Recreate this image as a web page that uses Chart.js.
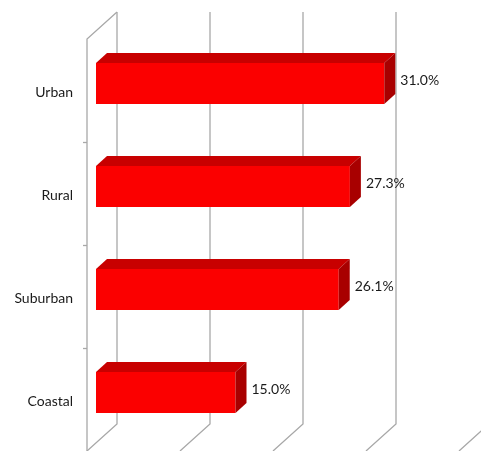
<!DOCTYPE html>
<html>
<head>
<meta charset="utf-8">
<script src="https://cdn.jsdelivr.net/npm/chart.js@4.4.1/dist/chart.umd.min.js"></script>
<style>
  html, body { margin: 0; padding: 0; background: #fff; }
</style>
</head>
<body>
<canvas id="areaChart" width="481" height="451"></canvas>
<script>
const categories = ['Urban', 'Rural', 'Suburban', 'Coastal'];
const shares = [31.0, 27.3, 26.1, 15.0];
const gridValues = [0, 10, 20, 30, 40];

// 3D look: offsets from the bar plane to the front and back walls
const BACK = { dx: 21, dy: -20 };
const FRONT = { dx: -9, dy: 7 };
const DEPTH = { dx: 11, dy: -10 };

const walls3d = {
  id: 'walls3d',
  beforeDatasetsDraw(chart) {
    const { ctx, chartArea, scales } = chart;
    const xs = scales.x, ys = scales.y;
    const top = chartArea.top, bottom = chartArea.bottom, left = chartArea.left;
    ctx.save();
    ctx.strokeStyle = '#a8a8a8';
    ctx.lineWidth = 1.3;
    gridValues.forEach(v => {
      const px = xs.getPixelForValue(v);
      ctx.beginPath();
      ctx.moveTo(px + BACK.dx, top + BACK.dy);
      ctx.lineTo(px + BACK.dx, bottom + BACK.dy);
      ctx.lineTo(px + FRONT.dx, bottom + FRONT.dy);
      ctx.stroke();
    });
    // left wall
    ctx.beginPath();
    ctx.moveTo(left + BACK.dx, top + BACK.dy);
    ctx.lineTo(left + FRONT.dx, top + FRONT.dy);
    ctx.lineTo(left + FRONT.dx, bottom + FRONT.dy);
    ctx.stroke();
    // category ticks between bands
    for (let i = 1; i < categories.length; i++) {
      const py = Math.round(ys.getPixelForValue(i - 0.5) + FRONT.dy) + 0.5;
      ctx.beginPath();
      ctx.moveTo(left + FRONT.dx - 4, py);
      ctx.lineTo(left + FRONT.dx, py);
      ctx.stroke();
    }
    ctx.restore();
  },
  afterDatasetsDraw(chart) {
    const { ctx } = chart;
    const meta = chart.getDatasetMeta(0);
    ctx.save();
    meta.data.forEach((bar, i) => {
      const p = bar.getProps(['x', 'y', 'base', 'height'], true);
      const t = p.y - p.height / 2, b = p.y + p.height / 2;
      // top face
      ctx.fillStyle = '#c80000';
      ctx.beginPath();
      ctx.moveTo(p.base, t);
      ctx.lineTo(p.x, t);
      ctx.lineTo(p.x + DEPTH.dx, t + DEPTH.dy);
      ctx.lineTo(p.base + DEPTH.dx, t + DEPTH.dy);
      ctx.closePath();
      ctx.fill();
      // side face
      ctx.fillStyle = '#a80000';
      ctx.beginPath();
      ctx.moveTo(p.x, t);
      ctx.lineTo(p.x + DEPTH.dx, t + DEPTH.dy);
      ctx.lineTo(p.x + DEPTH.dx, b + DEPTH.dy);
      ctx.lineTo(p.x, b);
      ctx.closePath();
      ctx.fill();
      // value label
      ctx.fillStyle = '#1a1a1a';
      ctx.font = '14px Lato';
      ctx.textAlign = 'left';
      ctx.textBaseline = 'middle';
      ctx.fillText(shares[i].toFixed(1) + '%', p.x + 16, p.y - 3);
    });
    ctx.restore();
  }
};

new Chart(document.getElementById('areaChart').getContext('2d'), {
  type: 'bar',
  data: {
    labels: categories,
    datasets: [{
      data: shares,
      backgroundColor: '#fb0000',
      borderWidth: 0,
      categoryPercentage: 1,
      barPercentage: 0.4
    }]
  },
  options: {
    indexAxis: 'y',
    responsive: false,
    animation: false,
    layout: { padding: { left: 0, right: 13, top: 32, bottom: 7 } },
    plugins: {
      legend: { display: false },
      tooltip: { enabled: false }
    },
    scales: {
      x: {
        display: false,
        min: 0,
        max: 40
      },
      y: {
        afterFit(scale) {
          scale.width = 96;
          scale.paddingTop = 0;
          scale.paddingBottom = 0;
        },
        grid: { display: false, drawTicks: false },
        border: { display: false },
        ticks: {
          color: '#1a1a1a',
          padding: 23,
          labelOffset: 9,
          font: { family: 'Lato', size: 14 }
        }
      }
    }
  },
  plugins: [walls3d]
});
</script>
</body>
</html>
